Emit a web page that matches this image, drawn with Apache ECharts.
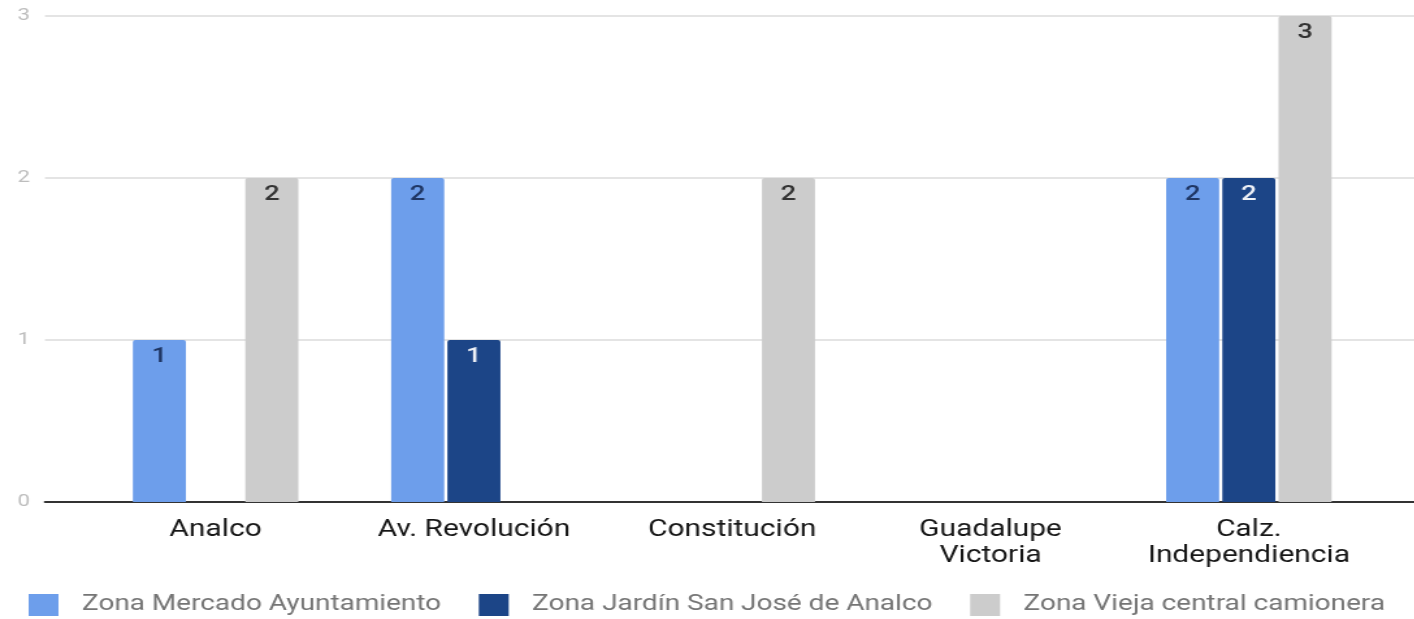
<!DOCTYPE html>
<html>
<head>
<meta charset="utf-8">
<script src="https://cdn.jsdelivr.net/npm/echarts@6/dist/echarts.min.js"></script>
<style>
  html, body { margin: 0; padding: 0; background: #ffffff; overflow: hidden; }
  #wrap { width: 1414px; height: 619px; overflow: hidden; }
  #chart { width: 1087.69px; height: 619px; transform: scaleX(1.3); transform-origin: 0 0; }
</style>
</head>
<body>
<div id="wrap"><div id="chart"></div></div>
<script>
const categories = ['Analco', 'Av. Revolución', 'Constitución', 'Guadalupe\nVictoria', 'Calz.\nIndependiencia'];
const seriesNames = ['Zona Mercado Ayuntamiento', 'Zona Jardín San José de Analco', 'Zona Vieja central camionera'];
const mercadoAyuntamiento = [1, 2, 0, 0, 2];
const jardinSanJose = [0, 1, 0, 0, 2];
const viejaCentral = [2, 0, 2, 0, 3];
const yTicks = [0, 1, 2, 3];

const colors = ['#6d9eeb', '#1c4587', '#cccccc'];
const labelColors = ['#1f3664', '#eef1f7', '#333333'];
const values = [mercadoAyuntamiento, jardinSanJose, viejaCentral];

const chart = echarts.init(document.getElementById('chart'), null, { renderer: 'canvas' });

const series = values.map((arr, i) => ({
  name: seriesNames[i],
  type: 'bar',
  xAxisIndex: 1,
  yAxisIndex: 1,
  data: arr,
  barWidth: 40.8,
  barGap: '6%',
  itemStyle: { color: colors[i], borderRadius: [2, 2, 0, 0] },
  label: {
    show: true,
    position: 'insideTop',
    distance: 6,
    color: labelColors[i],
    fontFamily: 'Roboto',
    fontWeight: 500,
    fontSize: 21,
    formatter: p => (p.value ? String(p.value) : '')
  },
  emphasis: { disabled: true }
}));

chart.setOption({
  animation: false,
  backgroundColor: '#ffffff',
  textStyle: { fontFamily: 'Roboto' },
  grid: [
    { left: 34.6, right: 0, top: 16, bottom: 117, containLabel: false },
    { left: 66.5, right: 28, top: 16, bottom: 117, containLabel: false }
  ],
  xAxis: [
    {
      gridIndex: 0, type: 'category', data: [''],
      axisLine: { show: true, lineStyle: { color: '#333333', width: 2 } },
      axisTick: { show: false }, axisLabel: { show: false }, splitLine: { show: false }
    },
    {
      gridIndex: 1, type: 'category', data: categories,
      axisLine: { show: false }, axisTick: { show: false },
      axisLabel: {
        show: true, margin: 15, color: '#161616', fontFamily: 'Roboto', fontWeight: 'normal',
        fontSize: 23, lineHeight: 26, interval: 0
      }
    }
  ],
  yAxis: [
    {
      gridIndex: 0, type: 'value', min: yTicks[0], max: yTicks[yTicks.length - 1], interval: 1,
      axisLine: { show: false }, axisTick: { show: false },
      axisLabel: { show: true, margin: 11.5, color: '#bdbdbd', fontSize: 17, fontFamily: 'Roboto' },
      splitLine: { show: true, lineStyle: { color: '#e4e4e4', width: 2 } }
    },
    {
      gridIndex: 1, type: 'value', min: yTicks[0], max: yTicks[yTicks.length - 1], interval: 1,
      show: false, splitLine: { show: false }
    }
  ],
  legend: {
    data: seriesNames,
    left: 17,
    top: 589,
    itemWidth: 23,
    itemHeight: 22,
    itemGap: 29,
    icon: 'rect',
    textStyle: { color: '#757575', fontSize: 21.5, fontFamily: 'Roboto', padding: [2, 0, 0, 13] }
  },
  series: series
});
</script>
</body>
</html>
